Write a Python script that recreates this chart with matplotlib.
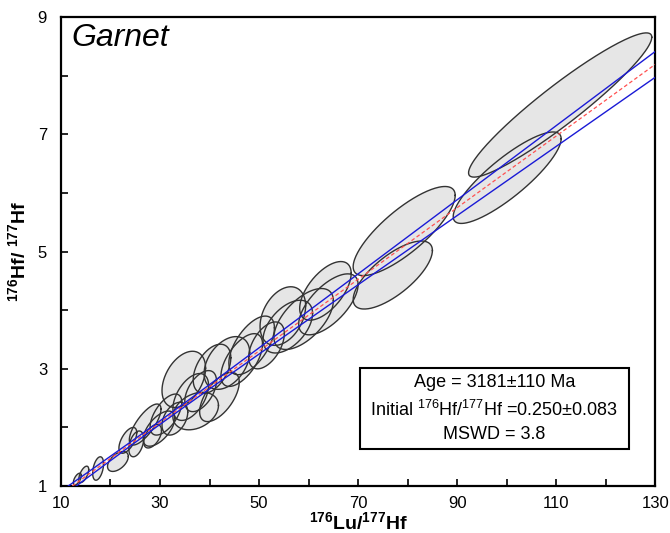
import numpy as np
import matplotlib
matplotlib.use("Agg")
import matplotlib.pyplot as plt
from matplotlib.patches import Rectangle

plt.rcParams['font.family'] = ['Liberation Sans', 'DejaVu Sans']
plt.rcParams['mathtext.fontset'] = 'custom'
plt.rcParams['mathtext.rm'] = 'Liberation Sans'
plt.rcParams['mathtext.bf'] = 'Liberation Sans:bold'
plt.rcParams['mathtext.it'] = 'Liberation Sans:italic'

# garnet analyses: 176Lu/177Hf (x), 176Hf/177Hf (y), half-extents and error correlation
lu_hf = [13.3, 14.6, 17.5, 21.5, 23.5, 25.2, 27.0, 28.5, 29.8, 31.2, 33.0,
         34.8, 36.2, 37.2, 38.2, 40.5, 42.0, 43.5, 46.5, 48.5, 51.5,
         54.8, 55.8, 59.0, 63.4, 64.0, 77.0, 79.3, 100.1, 110.8]
lu_err = [0.8, 1.0, 1.1, 2.1, 1.8, 1.5, 3.2, 1.8, 3.2, 3.2, 2.6,
          4.4, 3.6, 4.6, 3.2, 3.8, 4.0, 4.6, 4.2, 4.6, 3.6,
          4.6, 5.0, 6.0, 5.2, 6.0, 8.0, 10.3, 10.9, 18.5]
hf_hf = [1.12, 1.20, 1.30, 1.42, 1.78, 1.72, 2.05, 1.85, 1.98, 2.22, 2.15,
         2.82, 2.52, 2.28, 2.62, 3.00, 2.52, 3.10, 3.15, 3.40, 3.40,
         3.90, 3.72, 3.85, 4.33, 4.10, 4.60, 5.35, 6.26, 7.50]
hf_err = [0.10, 0.14, 0.20, 0.17, 0.22, 0.22, 0.35, 0.20, 0.30, 0.35, 0.28,
          0.48, 0.40, 0.32, 0.35, 0.42, 0.42, 0.45, 0.45, 0.50, 0.40,
          0.50, 0.45, 0.52, 0.50, 0.52, 0.58, 0.76, 0.78, 1.23]
rho = [0.60, 0.60, 0.40, 0.50, 0.60, 0.40, 0.75, 0.50, 0.60, 0.60, 0.40,
       0.40, 0.50, 0.30, 0.50, 0.45, 0.60, 0.40, 0.60, 0.60, 0.50,
       0.35, 0.50, 0.60, 0.60, 0.65, 0.72, 0.80, 0.85, 0.94]

# isochron result
slope = 0.0611
intercept = 0.250
slope_err = 0.00218
centre_err = 0.03
x_centre = 30.0

fig = plt.figure(figsize=(6.7, 5.33), dpi=100)
ax = fig.add_axes([0.091, 0.088, 0.887, 0.880])

t = np.linspace(0, 2 * np.pi, 200)
shapes = []
for x, sx, y, sy, r in zip(lu_hf, lu_err, hf_hf, hf_err, rho):
    ex = x + sx * np.cos(t)
    ey = y + sy * (r * np.cos(t) + np.sqrt(1 - r ** 2) * np.sin(t))
    shapes.append((ex, ey))
for ex, ey in shapes:
    ax.fill(ex, ey, color='#e6e6e6', lw=0, zorder=2)
for ex, ey in shapes:
    ax.plot(ex, ey, color='#333333', lw=1.0, zorder=3)

xx = np.linspace(0, 140, 300)
yy = intercept + slope * xx
half = np.sqrt(centre_err ** 2 + (slope_err * (xx - x_centre)) ** 2)
ax.plot(xx, yy, color='#ff5050', lw=0.9, ls=(0, (3, 2)), zorder=4)
ax.plot(xx, yy + half, color='#1a1ad6', lw=1.0, zorder=5)
ax.plot(xx, yy - half, color='#1a1ad6', lw=1.0, zorder=5)

ax.set_xlim(10, 130)
ax.set_ylim(1, 9)
ax.set_xticks(range(10, 131, 20))
ax.set_xticks(range(10, 131, 10), minor=True)
ax.set_yticks(range(1, 10, 2))
ax.set_yticks(range(1, 10, 1), minor=True)
ax.tick_params(which='both', direction='in', length=5, width=1.2, labelsize=12)
ax.tick_params(axis='x', pad=7)
ax.tick_params(axis='y', pad=10)
for s in ax.spines.values():
    s.set_linewidth(1.6)

ax.set_xlabel(r'$\mathbf{^{176}Lu/^{177}Hf}$', fontsize=14, labelpad=0)
ax.set_ylabel(r'$\mathbf{^{176}Hf/\ ^{177}Hf}$', fontsize=14, labelpad=6)

ax.text(0.018, 0.988, 'Garnet', transform=ax.transAxes, fontsize=23,
        style='italic', va='top', ha='left')

ax.add_patch(Rectangle((0.503, 0.079), 0.452, 0.173, transform=ax.transAxes,
                       fill=True, fc='white', ec='black', lw=1.5, zorder=6))
ax.text(0.729, 0.220, 'Age = 3181±110 Ma', transform=ax.transAxes,
        fontsize=13, ha='center', va='center', zorder=7)
ax.text(0.729, 0.162, r'Initial $^{176}$Hf/$^{177}$Hf =0.250±0.083',
        transform=ax.transAxes, fontsize=13, ha='center', va='center', zorder=7)
ax.text(0.729, 0.109, 'MSWD = 3.8', transform=ax.transAxes,
        fontsize=13, ha='center', va='center', zorder=7)

fig.savefig('out.png', dpi=100)
